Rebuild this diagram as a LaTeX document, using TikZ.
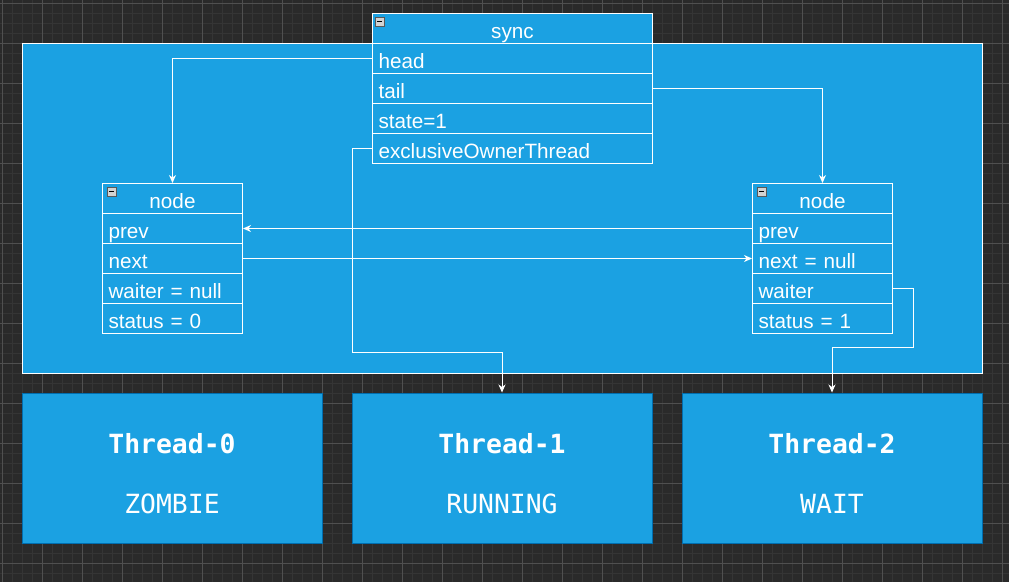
\documentclass[tikz,border=0pt]{standalone}
\usepackage{fontspec}
\setmainfont{Liberation Sans}
\newfontfamily\threadfont{DejaVu Sans Mono}
\usetikzlibrary{arrows.meta}
\definecolor{canvas}{HTML}{2A2A2A}
\definecolor{gridminor}{HTML}{353535}
\definecolor{gridmajor}{HTML}{505050}
\definecolor{panel}{HTML}{1BA1E2}
\definecolor{edgeblue}{HTML}{006EAF}
\begin{document}
\begin{tikzpicture}[x=1pt,y=-1pt,
  frame/.style={draw=white, fill=panel, line width=1pt, inner sep=0pt, anchor=north west},
  row/.style={draw=white, fill=panel, line width=1pt, anchor=north west,
    minimum height=30pt, inner xsep=6pt, inner ysep=0pt, align=left,
    text height=20.5pt, text depth=0pt, text=white,
    font=\fontsize{20.7}{24}\selectfont},
  header/.style={row, align=center},
  threadbox/.style={draw=edgeblue, fill=panel, line width=1pt,
    minimum width=300pt, minimum height=150pt, inner sep=0pt},
  threadname/.style={anchor=base, text=white, font=\threadfont\bfseries\fontsize{26.4}{30}\selectfont},
  threadstate/.style={anchor=base, text=white, font=\threadfont\fontsize{26.4}{30}\selectfont},
  link/.style={draw=white, line width=1pt, -{Stealth[length=8pt,width=7pt,inset=2.5pt]}},
  collapse/.style={fill=gray!35, draw=gray!70!black, line width=0.6pt}
]
\useasboundingbox (0,0) rectangle (1009,582);

% canvas and grid
\fill[canvas] (0,0) rectangle (1009,582);
\foreach \i in {0,...,100} \draw[gridminor, line width=1pt] ({2.5+10*\i},0) -- ({2.5+10*\i},582);
\foreach \j in {0,...,58} \draw[gridminor, line width=1pt] (0,{3+10*\j}) -- (1009,{3+10*\j});
\foreach \i in {0,...,25} \draw[gridmajor, line width=1pt] ({2.5+40*\i},0) -- ({2.5+40*\i},582);
\foreach \j in {0,...,14} \draw[gridmajor, line width=1pt] (0,{3+40*\j}) -- (1009,{3+40*\j});

% outer container
\node[frame, minimum width=960pt, minimum height=330pt] (lock) at (22,43) {};

% sync object
\node[header, text width=268pt] (shdr) at (372,13) {sync};
\node[row, text width=268pt] (shead) at (372,43) {head};
\node[row, text width=268pt] (stail) at (372,73) {tail};
\node[row, text width=268pt] (sstate) at (372,103) {state=1};
\node[row, text width=268pt] (sown) at (372,133) {exclusiveOwnerThread};
\filldraw[collapse] (375,17) rectangle (384,26);
\draw[black, line width=1pt] (377,21.5) -- (382,21.5);

% left queue node
\node[header, text width=128pt] (lhdr) at (102,183) {node};
\node[row, text width=128pt] (lprev) at (102,213) {prev};
\node[row, text width=128pt] (lnext) at (102,243) {next};
\node[row, text width=128pt] (lwait) at (102,273) {waiter = null};
\node[row, text width=128pt] (lstat) at (102,303) {status = 0};
\filldraw[collapse] (107,187) rectangle (116,196);
\draw[black, line width=1pt] (109,191.5) -- (114,191.5);

% right queue node
\node[header, text width=128pt] (rhdr) at (752,183) {node};
\node[row, text width=128pt] (rprev) at (752,213) {prev};
\node[row, text width=128pt] (rnext) at (752,243) {next = null};
\node[row, text width=128pt] (rwait) at (752,273) {waiter};
\node[row, text width=128pt] (rstat) at (752,303) {status = 1};
\filldraw[collapse] (757,187) rectangle (766,196);
\draw[black, line width=1pt] (759,191.5) -- (764,191.5);

% threads
\node[threadbox] (t0) at (172,468) {};
\node[threadname] (t0name) at (172,453) {Thread-0};
\node[threadstate] (t0state) at (172,513) {ZOMBIE};
\node[threadbox] (t1) at (502,468) {};
\node[threadname] (t1name) at (502,453) {Thread-1};
\node[threadstate] (t1state) at (502,513) {RUNNING};
\node[threadbox] (t2) at (832,468) {};
\node[threadname] (t2name) at (832,453) {Thread-2};
\node[threadstate] (t2state) at (832,513) {WAIT};

% references
\draw[link] (shead.west) -| (lhdr.north);
\draw[link] (stail.east) -| (rhdr.north);
\draw[link] (sown.west) -- ++(-20,0) |- ([yshift=40pt]t1.north) -- (t1.north);
\draw[link] (rprev.west) -- (lprev.east);
\draw[link] (lnext.east) -- (rnext.west);
\draw[link] (rwait.east) -- ++(20,0) |- ([yshift=45pt]t2.north) -- (t2.north);
\end{tikzpicture}
\end{document}
